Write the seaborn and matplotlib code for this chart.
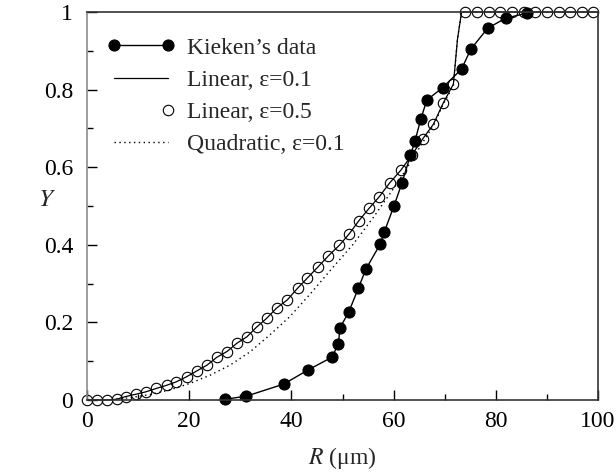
import matplotlib
matplotlib.use("Agg")
import matplotlib.pyplot as plt
import seaborn as sns
from matplotlib.legend_handler import HandlerLine2D
from matplotlib.ticker import MultipleLocator

# Kieken's measured points
r_kieken = [27.1, 31.2, 38.5, 43.2, 47.9, 49.2, 49.5, 51.2, 53.1, 54.6, 57.4, 58.2,
            60.1, 61.6, 63.3, 64.2, 65.3, 66.5, 69.6, 73.3, 75.1, 78.4, 81.9, 86.1]
y_kieken = [0.002, 0.010, 0.041, 0.077, 0.110, 0.144, 0.186, 0.226, 0.288, 0.338, 0.402, 0.434,
            0.501, 0.558, 0.631, 0.668, 0.723, 0.773, 0.805, 0.853, 0.904, 0.958, 0.984, 0.997]

# Linear model, eps=0.5 (open circles)
r_lin05 = [0.0, 2.0, 4.0, 5.8, 7.6, 9.6, 11.5, 13.6, 15.6, 17.5, 19.5, 21.5, 23.5, 25.4,
           27.4, 29.3, 31.3, 33.2, 35.2, 37.1, 39.2, 41.2, 43.1, 45.2, 47.2, 49.4, 51.3,
           53.2, 55.2, 57.2, 59.2, 61.4, 63.6, 65.7, 67.8, 69.7, 71.7,
           74.0, 76.3, 78.6, 80.9, 83.2, 85.5, 87.7, 90.0, 92.3, 94.6, 96.9, 99.1]
y_lin05 = [0.000, 0.000, 0.000, 0.002, 0.009, 0.015, 0.021, 0.030, 0.038, 0.047, 0.060, 0.075,
           0.090, 0.110, 0.125, 0.146, 0.163, 0.188, 0.211, 0.237, 0.258, 0.288, 0.314, 0.343,
           0.371, 0.399, 0.428, 0.462, 0.494, 0.524, 0.559, 0.592, 0.632, 0.673, 0.711, 0.765,
           0.814, 1, 1, 1, 1, 1, 1, 1, 1, 1, 1, 1, 1]

# Linear model, eps=0.1 (solid line)
r_lin01 = r_lin05[:37] + [72.5, 73.3, 100.0]
y_lin01 = y_lin05[:37] + [0.93, 1.0, 1.0]

# Quadratic model, eps=0.1 (dotted line)
r_quad = [0, 5, 8.4, 12.3, 16.2, 20.2, 24.1, 28.0, 31.9, 35.8, 39.7, 43.6, 48, 52, 56,
          60, 62, 64, 66, 68, 69.7, 71.7, 72.5, 73.3, 100]
y_quad = [0, 0.001, 0.006, 0.014, 0.026, 0.043, 0.064, 0.090, 0.124, 0.168, 0.215, 0.272,
          0.340, 0.400, 0.470, 0.545, 0.585, 0.628, 0.670, 0.712, 0.762, 0.810, 0.93, 1.0, 1.0]

y_ticks = [0, 0.2, 0.4, 0.6, 0.8, 1]
y_ticklabels = ["0", "0.2", "0.4", "0.6", "0.8", "1"]
x_ticks = [0, 20, 40, 60, 80, 100]

sns.set_theme(style="white")
plt.rcParams["font.family"] = ["Liberation Serif", "DejaVu Serif"]
plt.rcParams["mathtext.fontset"] = "stix"

fig = plt.figure(figsize=(6.16, 4.74), dpi=100)
ax = fig.add_axes([87 / 616, 1 - 400 / 474, 511 / 616, 388 / 474])

sns.lineplot(x=r_lin01, y=y_lin01, ax=ax, color="black", lw=0.9, sort=False,
             estimator=None, label="Linear, ε=0.1", clip_on=False)
sns.lineplot(x=r_quad, y=y_quad, ax=ax, color="black", lw=1.0, sort=False,
             estimator=None, label="Quadratic, ε=0.1", linestyle=(0, (1, 2.5)))
sns.lineplot(x=r_lin05, y=y_lin05, ax=ax, color="black", lw=0, sort=False,
             estimator=None, marker="o", markersize=7.5, markerfacecolor="none",
             markeredgecolor="black", markeredgewidth=0.8, label="Linear, ε=0.5",
             clip_on=False)
sns.lineplot(x=r_kieken, y=y_kieken, ax=ax, color="black", lw=1.0, sort=False,
             estimator=None, marker="o", markersize=8, markerfacecolor="black",
             markeredgecolor="black", label="Kieken’s data", clip_on=False)

ax.set_xlim(0, 100)
ax.set_ylim(0, 1)
ax.set_xticks(x_ticks, labels=[str(v) for v in x_ticks])
ax.set_yticks(y_ticks, labels=y_ticklabels)
ax.xaxis.set_minor_locator(MultipleLocator(10))
ax.yaxis.set_minor_locator(MultipleLocator(0.1))
ax.tick_params(which="both", direction="in", bottom=True, left=True, top=False,
               right=False, labelsize=17, colors="black")
ax.tick_params(axis="y", pad=10)
ax.tick_params(axis="x", pad=8)
ax.tick_params(which="major", length=7, width=1)
ax.tick_params(which="minor", length=4, width=1)

for side in ["top", "right", "bottom"]:
    ax.spines[side].set_color("#333333")
    ax.spines[side].set_linewidth(1.2)
ax.spines["left"].set_color("#8c8c8c")
ax.spines["left"].set_linewidth(1.2)

ax.set_xlabel("$R$ (μm)", fontsize=17, labelpad=9)
ax.set_ylabel("$Y$", fontsize=18, rotation=0, va="center", ha="center")
ax.yaxis.set_label_coords(-0.078, 0.515)


# single open circle drawn at the right end of the legend handle
class RightMarker(HandlerLine2D):
    def get_xdata(self, legend, xdescent, ydescent, width, height, fontsize):
        xm = -xdescent + width - 0.3 * fontsize
        return [xm - 1, xm + 1], [xm]


h, l = ax.get_legend_handles_labels()
order = [l.index("Kieken’s data"), l.index("Linear, ε=0.1"),
         l.index("Linear, ε=0.5"), l.index("Quadratic, ε=0.1")]
handles = [h[i] for i in order]
leg = ax.legend(handles, [l[i] for i in order], loc="upper left",
                bbox_to_anchor=(0.038, 0.935), frameon=False, fontsize=17,
                handlelength=2.9, handletextpad=0.5, labelspacing=0.45,
                borderpad=0, borderaxespad=0, numpoints=2,
                handler_map={handles[2]: RightMarker(numpoints=1)})

fig.savefig("out.png", dpi=100)
